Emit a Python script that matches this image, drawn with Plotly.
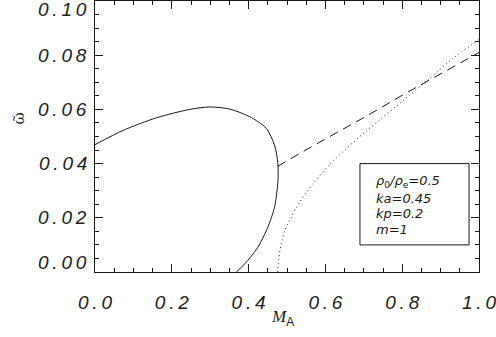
import plotly.graph_objects as go

# solid branch (closed loop part)
solid_x = [0.0, 0.074, 0.160, 0.247, 0.299, 0.351, 0.403, 0.446, 0.4675, 0.476,
           0.477, 0.476, 0.4675, 0.450, 0.424, 0.390, 0.368]
solid_y = [0.0470, 0.0523, 0.0569, 0.0600, 0.0609, 0.0601, 0.0573, 0.0530, 0.0468, 0.0405,
           0.0370, 0.0326, 0.0239, 0.0165, 0.0091, 0.0030, 0.0]

# dashed branch
dash_x = [0.476, 0.541, 0.628, 0.714, 0.801, 0.887, 1.0]
dash_y = [0.0390, 0.0444, 0.0513, 0.0581, 0.0653, 0.0722, 0.0810]

# dotted branch
dot_x = [0.476, 0.479, 0.485, 0.494, 0.511, 0.532, 0.567, 0.610, 0.654, 0.706,
         0.745, 0.801, 0.870, 0.931, 1.0]
dot_y = [0.0, 0.0054, 0.0104, 0.0153, 0.0202, 0.0255, 0.0325, 0.0395, 0.0455, 0.0520,
         0.0566, 0.0631, 0.0713, 0.0787, 0.0858]

x_ticks = [0.0, 0.2, 0.4, 0.6, 0.8, 1.0]
x_labels = ["0.0", "0.2", "0.4", "0.6", "0.8", "1.0"]
y_ticks = [0.0, 0.02, 0.04, 0.06, 0.08, 0.10]
y_labels = ["0.00", "0.02", "0.04", "0.06", "0.08", "0.10"]

legend_lines = ["<i>ρ</i><sub>0</sub><i>/ρ</i><sub>e</sub><i>=0.5</i>",
                "<i>ka=0.45</i>", "<i>kp=0.2</i>", "<i>m=1</i>"]

INK = "#1a1a1a"
FONT = "Liberation Sans"
SP = "\u2009"  # thin space, the original labels are widely spaced


def spaced(s):
    return SP.join(s)


fig = go.Figure()
fig.add_trace(go.Scatter(x=solid_x, y=solid_y, mode="lines",
                         line=dict(color=INK, width=1, shape="spline", smoothing=0.8)))
fig.add_trace(go.Scatter(x=dash_x, y=dash_y, mode="lines",
                         line=dict(color=INK, width=1, dash="9px,6px")))
fig.add_trace(go.Scatter(x=dot_x, y=dot_y, mode="lines",
                         line=dict(color=INK, width=1, dash="1px,3px", shape="spline",
                                   smoothing=0.6)))

axis_common = dict(
    showline=True, linecolor=INK, linewidth=1.3, mirror="ticks",
    ticks="inside", ticklen=8, tickwidth=1, tickcolor=INK,
    showgrid=False, zeroline=False,
)

fig.update_xaxes(
    range=[0, 1.0], tickvals=x_ticks, ticktext=[spaced(t) for t in x_labels],
    minor=dict(ticks="inside", ticklen=4, dtick=0.05, tickcolor=INK),
    tickfont=dict(family=FONT, size=19, color="#222", style="italic"),
    ticklabelstandoff=13, ticklabeloverflow="allow",
    **axis_common,
)
fig.update_yaxes(
    range=[0, 0.10], tickvals=y_ticks, showticklabels=False,
    minor=dict(ticks="inside", ticklen=4, dtick=0.005, tickcolor=INK),
    **axis_common,
)

# y tick labels (end labels nudged inward like the original)
shifts = {0: 10, len(y_ticks) - 1: -8}
for i, (v, t) in enumerate(zip(y_ticks, y_labels)):
    fig.add_annotation(x=0, xref="paper", y=v, yref="y", text=spaced(t), showarrow=False,
                       xanchor="right", yanchor="middle", xshift=-6, yshift=shifts.get(i, 0),
                       font=dict(family=FONT, size=19, color="#222", style="italic"))

# axis titles
fig.add_annotation(x=-0.198, xref="paper", y=0.5, yref="paper", text="ῶ",
                   textangle=-90, showarrow=False, xanchor="center", yanchor="middle",
                   yshift=18, font=dict(family="DejaVu Serif", size=15, color=INK))
fig.add_annotation(x=0.487, xref="paper", y=-0.168, yref="paper",
                   text="<span style='font-family:Liberation Serif'><i>M</i></span>"
                        "<sub>A</sub>",
                   showarrow=False, xanchor="center", yanchor="middle",
                   font=dict(family=FONT, size=17, color=INK))

# parameter box
fig.add_shape(type="rect", x0=0.69, x1=0.974, y0=0.010, y1=0.040,
              line=dict(color=INK, width=1))
line_y = [0.0334, 0.0272, 0.0215, 0.0157]
for t, ly in zip(legend_lines, line_y):
    fig.add_annotation(x=0.726, y=ly, text=t, showarrow=False, xanchor="left",
                       yanchor="middle", font=dict(family="DejaVu Sans", size=13, color=INK))

fig.update_layout(
    width=496, height=337,
    margin=dict(l=95, r=17, t=1, b=65),
    paper_bgcolor="white", plot_bgcolor="white",
    showlegend=False,
)

fig.write_html("out.html", config={"displayModeBar": False},
               post_script="document.body.style.margin='0';")
